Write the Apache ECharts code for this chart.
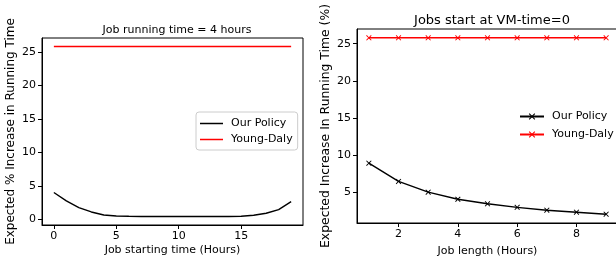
<!DOCTYPE html>
<html><head><meta charset="utf-8">
<script src="https://cdn.jsdelivr.net/npm/echarts@6/dist/echarts.min.js"></script>
<style>
html,body{margin:0;padding:0;background:#fff;width:616px;height:264px;overflow:hidden}
#c1{position:absolute;left:0;top:0;width:308px;height:264px}
#c2{position:absolute;left:308px;top:0;width:308px;height:264px}
</style></head><body>
<div id="c1"></div><div id="c2"></div>
<script>
// Left chart data
const startHours = [0,1,2,3,4,5,6,7,8,9,10,11,12,13,14,15,16,17,18,19];
const leftOurPolicy = [4.0,2.75,1.75,1.1,0.65,0.5,0.45,0.42,0.42,0.42,0.42,0.42,0.42,0.42,0.43,0.45,0.6,0.9,1.45,2.65];
const leftYoungDaly = [25.8,25.8,25.8,25.8,25.8,25.8,25.8,25.8,25.8,25.8,25.8,25.8,25.8,25.8,25.8,25.8,25.8,25.8,25.8,25.8];
const leftXTicks = [0,5,10,15];
const leftYTicks = [0,5,10,15,20,25];
// Right chart data
const jobLengths = [1,2,3,4,5,6,7,8,9];
const rightOurPolicy = [8.87,6.4,4.95,4.0,3.38,2.9,2.52,2.25,1.98];
const rightYoungDaly = [25.8,25.8,25.8,25.8,25.8,25.8,25.8,25.8,25.8];
const rightXTicks = [2,4,6,8];
const rightYTicks = [5,10,15,20,25];

const FONT = 'DejaVu Sans';
const XMARK = 'path://M0,1.2L1.2,0L5,3.8L8.8,0L10,1.2L6.2,5L10,8.8L8.8,10L5,6.2L1.2,10L0,8.8L3.8,5Z';

function pad(lo, hi){ const r = hi - lo; return [lo - 0.05*r, hi + 0.05*r]; }
function pairs(xs, ys){ return xs.map((x,i)=>[x, ys[i]]); }

function axisCommon(ticks, margin, fs, nameFs){
  return {
    type:'value', splitLine:{show:false}, nameMoveOverlap:false,
    axisLine:{show:true, onZero:false, lineStyle:{color:'#000', width:1}},
    axisTick:{show:true, customValues:ticks, length:4, lineStyle:{color:'#000'}},
    axisLabel:{customValues:ticks, color:'#000', fontFamily:FONT, fontSize:fs, margin:margin},
    nameTextStyle:{color:'#000', fontFamily:FONT, fontSize:nameFs}
  };
}

// ---------- Left chart ----------
const lx = pad(Math.min(...startHours), Math.max(...startHours));
const ly = pad(Math.min(...leftOurPolicy), Math.max(...leftYoungDaly));
const c1 = echarts.init(document.getElementById('c1'), null, {renderer:'canvas'});
c1.setOption({
  animation:false,
  textStyle:{fontFamily:FONT},
  title:{text:'Job running time = 4 hours', left:172, top:20, textAlign:'center',
    textStyle:{fontFamily:FONT, fontSize:11, fontWeight:'normal', color:'#000'}},
  grid:{left:42, top:38, width:261, height:187, show:true, borderColor:'#000', borderWidth:1,
    containLabel:false, outerBoundsMode:'none'},
  xAxis:Object.assign(axisCommon(leftXTicks, 6, 11, 11), {min:lx[0], max:lx[1],
    name:'Job starting time (Hours)', nameLocation:'middle', nameGap:20}),
  yAxis:Object.assign(axisCommon(leftYTicks, 6, 11, 12), {min:ly[0], max:ly[1],
    name:'Expected % Increase in Running Time', nameLocation:'middle', nameGap:25}),
  legend:{left:196, top:112, orient:'vertical', padding:[6,5,5,4],
    backgroundColor:'rgba(255,255,255,0.8)', borderColor:'#ccc', borderWidth:1, borderRadius:3,
    itemWidth:23, itemHeight:1.5, itemGap:5,
    textStyle:{fontFamily:FONT, fontSize:11, color:'#000', padding:[0,0,0,3]},
    data:[{name:'Our Policy', icon:'rect', itemStyle:{color:'#000'}},
          {name:'Young-Daly', icon:'rect', itemStyle:{color:'#ff0000'}}]},
  series:[
    {name:'Our Policy', type:'line', data:pairs(startHours,leftOurPolicy), showSymbol:false, symbol:'none',
      itemStyle:{color:'#000'}, lineStyle:{color:'#000', width:1.4}},
    {name:'Young-Daly', type:'line', data:pairs(startHours,leftYoungDaly), showSymbol:false, symbol:'none',
      itemStyle:{color:'#ff0000'}, lineStyle:{color:'#ff0000', width:1.4}}
  ]
});

// ---------- Right chart ----------
const rx = pad(Math.min(...jobLengths), Math.max(...jobLengths));
const ry = pad(Math.min(...rightOurPolicy), Math.max(...rightYoungDaly));
const c2 = echarts.init(document.getElementById('c2'), null, {renderer:'canvas'});
c2.setOption({
  animation:false,
  textStyle:{fontFamily:FONT},
  title:{text:'Jobs start at VM-time=0', left:179, top:9, textAlign:'center',
    textStyle:{fontFamily:FONT, fontSize:13, fontWeight:'normal', color:'#000'}},
  grid:{left:49, top:29, width:261, height:194, show:true, borderColor:'#000', borderWidth:1,
    containLabel:false, outerBoundsMode:'none'},
  xAxis:Object.assign(axisCommon(rightXTicks, 6, 11, 11), {min:rx[0], max:rx[1],
    name:'Job length (Hours)', nameLocation:'middle', nameGap:23}),
  yAxis:Object.assign(axisCommon(rightYTicks, 6, 11, 12.4), {min:ry[0], max:ry[1],
    name:'Expected Increase In Running Time (%)', nameLocation:'middle', nameGap:25}),
  legend:{left:211, top:111, orient:'vertical', padding:0,
    itemWidth:24, itemHeight:8, itemGap:7,
    textStyle:{fontFamily:FONT, fontSize:11, color:'#000', padding:[0,0,0,3]},
    data:['Our Policy','Young-Daly']},
  series:[
    {name:'Our Policy', type:'line', data:pairs(jobLengths,rightOurPolicy), symbol:XMARK, symbolSize:5.5,
      itemStyle:{color:'#000'}, lineStyle:{color:'#000', width:1.4}},
    {name:'Young-Daly', type:'line', data:pairs(jobLengths,rightYoungDaly), symbol:XMARK, symbolSize:5.5,
      itemStyle:{color:'#ff0000'}, lineStyle:{color:'#ff0000', width:1.4}}
  ]
});
</script>
</body></html>
